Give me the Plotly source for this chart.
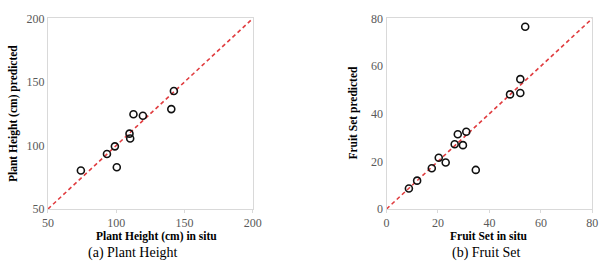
import plotly.graph_objects as go

ph_insitu = [74.1, 93.2, 99.0, 100.4, 109.7, 110.2, 112.6, 119.5, 140.3, 142.2]
ph_pred = [80.3, 93.3, 99.3, 82.8, 109.3, 105.5, 124.6, 123.4, 128.6, 142.8]

fs_insitu = [8.7, 11.9, 17.6, 20.3, 23.0, 26.5, 27.7, 29.7, 31.0, 34.7, 48.0, 52.0, 52.0, 53.9]
fs_pred = [8.6, 11.9, 17.1, 21.5, 19.5, 27.2, 31.4, 26.8, 32.4, 16.4, 48.1, 54.5, 48.7, 76.5]

ph_range = [50, 200]
ph_ticks = [50, 100, 150, 200]
fs_range = [0, 80]
fs_ticks = [0, 20, 40, 60, 80]

W, H = 616, 271
FONT = "Liberation Serif"
RED = "#e03c3f"

fig = go.Figure()
# identity lines
fig.add_trace(go.Scatter(x=ph_range, y=ph_range, mode="lines",
                         line=dict(color=RED, dash="4px,3px", width=1.6),
                         xaxis="x", yaxis="y", showlegend=False))
fig.add_trace(go.Scatter(x=ph_insitu, y=ph_pred, mode="markers",
                         marker=dict(symbol="circle-open", size=7, color="#111111",
                                     line=dict(width=1.6)),
                         xaxis="x", yaxis="y", showlegend=False))
fig.add_trace(go.Scatter(x=fs_range, y=fs_range, mode="lines",
                         line=dict(color=RED, dash="4px,3px", width=1.6),
                         xaxis="x2", yaxis="y2", showlegend=False))
fig.add_trace(go.Scatter(x=fs_insitu, y=fs_pred, mode="markers",
                         marker=dict(symbol="circle-open", size=7, color="#111111",
                                     line=dict(width=1.6)),
                         xaxis="x2", yaxis="y2", showlegend=False))

ydom = [1 - 213 / H, 1 - 12 / H]
x1dom = [43 / W, 253 / W]
x2dom = [390 / W, 601 / W]

axcommon = dict(showgrid=False, zeroline=False, showline=True, linecolor="#d9d9d9",
                linewidth=1, mirror=True,
                tickfont=dict(family=FONT, size=12, color="#595959"))

fig.update_layout(
    width=W, height=H, margin=dict(l=0, r=0, t=0, b=0),
    paper_bgcolor="white", plot_bgcolor="white",
    xaxis=dict(domain=x1dom, range=ph_range, tickvals=ph_ticks, anchor="y",
               ticks="outside", ticklen=3, tickcolor="#d9d9d9", **axcommon),
    yaxis=dict(domain=ydom, range=ph_range, tickvals=ph_ticks, anchor="x",
               ticks="", **axcommon),
    xaxis2=dict(domain=x2dom, range=fs_range, tickvals=fs_ticks, anchor="y2",
                ticks="outside", ticklen=3, tickcolor="#d9d9d9", **axcommon),
    yaxis2=dict(domain=ydom, range=fs_range, tickvals=fs_ticks, anchor="x2",
                ticks="", **axcommon),
)

ann = [
    dict(text="<b>Plant Height (cm) in situ</b>", x=154 / W, y=1 - 242 / H, size=11.5, angle=0),
    dict(text="<b>Plant Height (cm) predicted</b>", x=7 / W, y=1 - 112 / H, size=11.5, angle=-90),
    dict(text="(a) Plant Height", x=130 / W, y=1 - 259 / H, size=14, angle=0),
    dict(text="<b>Fruit Set in situ</b>", x=495 / W, y=1 - 242 / H, size=11.5, angle=0),
    dict(text="<b>Fruit Set predicted</b>", x=356 / W, y=1 - 111 / H, size=11.5, angle=-90),
    dict(text="(b) Fruit Set", x=492 / W, y=1 - 259 / H, size=14, angle=0),
]
for a in ann:
    fig.add_annotation(text=a["text"], x=a["x"], y=a["y"], xref="paper", yref="paper",
                       xanchor="center", yanchor="middle", showarrow=False,
                       textangle=a["angle"],
                       font=dict(family=FONT, size=a["size"], color="#000000"))

fig.write_html("out.html")
